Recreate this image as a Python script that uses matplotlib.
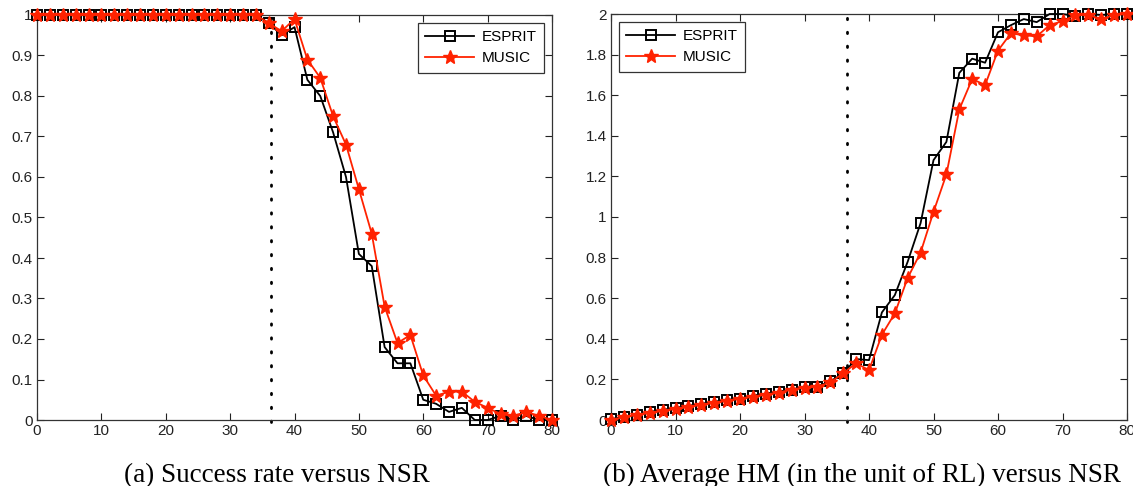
import numpy as np
import matplotlib
matplotlib.use('Agg')
import matplotlib.pyplot as plt
from matplotlib.ticker import MultipleLocator, FuncFormatter

# NSR values (same for both panels)
nsr = list(range(0, 82, 2))

# (a) success rate
esprit_rate = [1.0] * 18 + [0.98, 0.95, 0.97, 0.84, 0.80, 0.71, 0.60, 0.41, 0.38, 0.18,
                            0.14, 0.14, 0.05, 0.04, 0.02, 0.03, 0.0, 0.0, 0.01, 0.0,
                            0.01, 0.0, 0.0]
music_rate = [1.0] * 18 + [0.98, 0.96, 0.99, 0.89, 0.845, 0.75, 0.68, 0.57, 0.46, 0.28,
                           0.19, 0.21, 0.11, 0.06, 0.07, 0.07, 0.045, 0.03, 0.015, 0.01,
                           0.02, 0.01, 0.0]

# (b) average HM in units of RL
esprit_hm = [0.005, 0.015, 0.025, 0.04, 0.05, 0.06, 0.07, 0.08, 0.09, 0.10, 0.105, 0.12,
             0.13, 0.14, 0.15, 0.165, 0.165, 0.19, 0.23, 0.30, 0.295, 0.53, 0.615, 0.78,
             0.97, 1.28, 1.37, 1.71, 1.78, 1.76, 1.91, 1.945, 1.975, 1.96, 2.0, 2.0,
             1.99, 2.0, 1.995, 2.0, 2.0]
music_hm = [0.0, 0.015, 0.025, 0.035, 0.045, 0.055, 0.065, 0.075, 0.085, 0.095, 0.105, 0.115,
            0.125, 0.135, 0.15, 0.16, 0.165, 0.185, 0.23, 0.28, 0.245, 0.42, 0.525, 0.70,
            0.825, 1.025, 1.21, 1.53, 1.68, 1.65, 1.82, 1.905, 1.895, 1.89, 1.945, 1.965,
            1.995, 1.995, 1.975, 1.995, 2.0]

threshold_a = 36.3
threshold_b = 36.6

red = '#ff2200'

plt.rcParams['font.family'] = ['Liberation Sans', 'DejaVu Sans']

fig = plt.figure(figsize=(11.33, 4.86), dpi=100)
ax1 = fig.add_axes([37 / 1133, 66 / 486, 515 / 1133, 405 / 486])
ax2 = fig.add_axes([611 / 1133, 66 / 486, 516 / 1133, 406 / 486])


def fmt(v, pos):
    s = '%g' % round(v, 2)
    return s


def style(ax, ymax, ystep):
    ax.set_xlim(0, 80)
    ax.set_ylim(0, ymax)
    ax.xaxis.set_major_locator(MultipleLocator(10))
    ax.yaxis.set_major_locator(MultipleLocator(ystep))
    ax.yaxis.set_major_formatter(FuncFormatter(fmt))
    ax.xaxis.set_major_formatter(FuncFormatter(fmt))
    ax.tick_params(direction='in', top=True, right=True, length=5, width=0.8,
                   labelsize=11, pad=3, colors='#222222')
    for sp in ax.spines.values():
        sp.set_linewidth(0.9)
        sp.set_color('#333333')


for ax, e, m, thr, ymax, ystep, loc in [
        (ax1, esprit_rate, music_rate, threshold_a, 1.0, 0.1, 'upper right'),
        (ax2, esprit_hm, music_hm, threshold_b, 2.0, 0.2, 'upper left')]:
    ax.plot(nsr, e, color='black', lw=1.3, marker='s', markersize=7.5,
            markerfacecolor='none', markeredgewidth=1.4, label='ESPRIT', clip_on=False, zorder=3)
    ax.plot(nsr, m, color=red, lw=1.3, marker='*', markersize=10,
            markerfacecolor=red, markeredgecolor=red, label='MUSIC', clip_on=False, zorder=4)
    ax.axvline(thr, ymin=-0.005, ymax=1.02, color='black', lw=2.0,
               linestyle=(0, (0.5, 4.5)), dash_capstyle='round', clip_on=False)
    style(ax, ymax, ystep)
    leg = ax.legend(loc=loc, fontsize=11, frameon=True, fancybox=False,
                    handlelength=3.2, borderaxespad=0.5, borderpad=0.5,
                    labelspacing=0.45, handletextpad=0.5)
    leg.get_frame().set_edgecolor('black')
    leg.get_frame().set_linewidth(0.9)

fig.text(277 / 1133, 4 / 486, '(a) Success rate versus NSR', ha='center', va='baseline',
         fontsize=19.5, family=['Liberation Serif', 'DejaVu Serif'])
fig.text(862 / 1133, 4 / 486, '(b) Average HM (in the unit of RL) versus NSR', ha='center',
         va='baseline', fontsize=19.5, family=['Liberation Serif', 'DejaVu Serif'])

fig.savefig('out.png', dpi=100)
